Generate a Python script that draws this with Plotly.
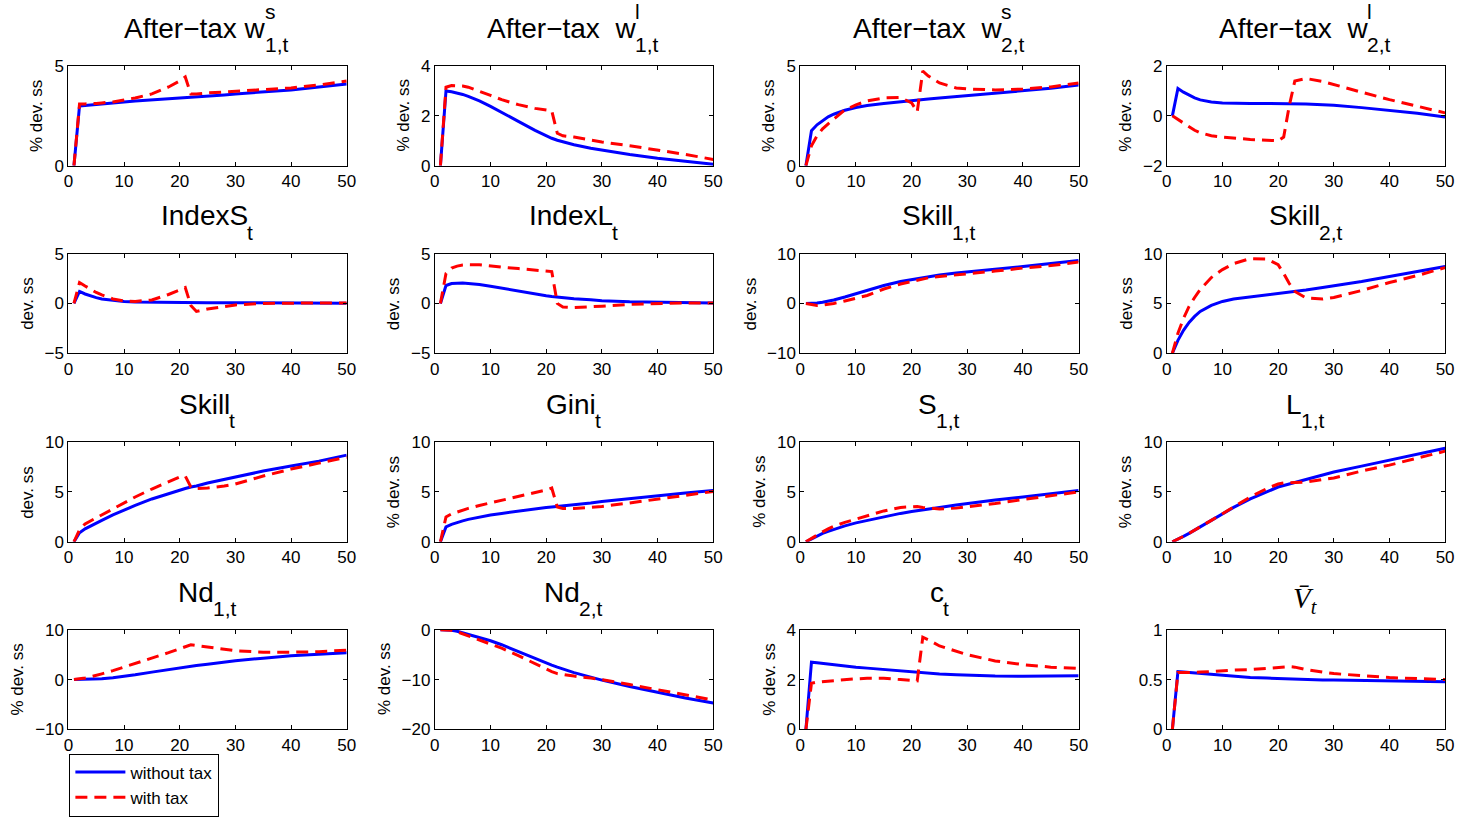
import plotly.graph_objects as go

# ---------------------------------------------------------------- data
t_period = [1, 2, 3, 4, 5, 6, 8, 10, 12, 15, 18, 20, 21, 22, 23, 25, 28, 30, 35, 40, 45, 50]

ws1_notax = [0, 3.0, 3.02, 3.05, 3.08, 3.1, 3.15, 3.2, 3.25, 3.3, 3.37, 3.4, 3.42, 3.44, 3.46, 3.5, 3.55, 3.6, 3.7, 3.8, 3.95, 4.1]
ws1_tax = [0, 3.1, 3.1, 3.1, 3.12, 3.15, 3.2, 3.3, 3.4, 3.6, 3.95, 4.25, 4.45, 3.6, 3.6, 3.65, 3.7, 3.72, 3.8, 3.9, 4.05, 4.25]

wl1_notax = [0, 3.0, 2.97, 2.92, 2.86, 2.78, 2.6, 2.38, 2.15, 1.78, 1.42, 1.2, 1.1, 1.02, 0.95, 0.84, 0.7, 0.62, 0.45, 0.3, 0.17, 0.06]
wl1_tax = [0, 3.15, 3.22, 3.22, 3.2, 3.15, 3.0, 2.82, 2.65, 2.45, 2.3, 2.22, 2.2, 1.3, 1.2, 1.15, 1.02, 0.95, 0.8, 0.63, 0.45, 0.25]

ws2_notax = [0, 1.75, 2.05, 2.25, 2.45, 2.58, 2.78, 2.92, 3.02, 3.12, 3.22, 3.28, 3.3, 3.33, 3.35, 3.4, 3.47, 3.52, 3.63, 3.75, 3.88, 4.05]
ws2_tax = [0, 1.0, 1.5, 1.85, 2.1, 2.35, 2.8, 3.05, 3.25, 3.4, 3.42, 3.15, 2.7, 4.75, 4.5, 4.15, 3.9, 3.85, 3.8, 3.85, 3.95, 4.15]

wl2_notax = [0, 1.1, 0.95, 0.82, 0.72, 0.64, 0.56, 0.52, 0.5, 0.5, 0.5, 0.5, 0.5, 0.5, 0.49, 0.48, 0.45, 0.43, 0.33, 0.23, 0.1, -0.05]
wl2_tax = [0, -0.15, -0.3, -0.45, -0.58, -0.68, -0.8, -0.85, -0.9, -0.95, -0.98, -1.0, -0.85, 0.4, 1.4, 1.5, 1.38, 1.25, 0.95, 0.65, 0.4, 0.12]

indexS_notax = [0, 1.2, 0.95, 0.75, 0.58, 0.45, 0.3, 0.2, 0.15, 0.12, 0.1, 0.1, 0.1, 0.09, 0.09, 0.08, 0.07, 0.06, 0.04, 0.03, 0.02, 0.02]
indexS_tax = [0, 2.1, 1.75, 1.4, 1.1, 0.85, 0.45, 0.25, 0.2, 0.35, 0.9, 1.35, 1.6, -0.2, -0.8, -0.55, -0.3, -0.15, 0.0, 0.05, 0.05, 0.05]

indexL_notax = [0, 1.8, 2.0, 2.05, 2.05, 2.0, 1.9, 1.72, 1.52, 1.22, 0.95, 0.78, 0.7, 0.63, 0.58, 0.48, 0.36, 0.28, 0.16, 0.1, 0.07, 0.05]
indexL_tax = [0, 3.0, 3.55, 3.75, 3.85, 3.9, 3.88, 3.75, 3.65, 3.5, 3.35, 3.25, 3.2, 0.0, -0.35, -0.42, -0.35, -0.27, -0.1, 0.0, 0.05, 0.05]

skill1_notax = [0, 0.0, 0.1, 0.25, 0.45, 0.7, 1.3, 2.0, 2.6, 3.6, 4.4, 4.8, 5.0, 5.2, 5.35, 5.7, 6.1, 6.3, 6.9, 7.4, 8.0, 8.6]
skill1_tax = [0, -0.2, -0.4, -0.35, -0.2, 0.0, 0.5, 1.0, 1.6, 2.9, 3.9, 4.4, 4.7, 4.95, 5.15, 5.4, 5.7, 5.9, 6.5, 7.1, 7.6, 8.3]

skill2_notax = [0, 1.3, 2.3, 3.1, 3.7, 4.2, 4.8, 5.2, 5.45, 5.65, 5.85, 6.0, 6.05, 6.1, 6.15, 6.35, 6.6, 6.75, 7.2, 7.7, 8.2, 8.7]
skill2_tax = [0, 2.0, 3.5, 4.7, 5.6, 6.4, 7.6, 8.4, 9.0, 9.5, 9.45, 8.9, 8.0, 7.0, 6.2, 5.55, 5.45, 5.6, 6.3, 7.1, 7.8, 8.6]

skill_notax = [0, 0.9, 1.3, 1.6, 1.9, 2.15, 2.7, 3.2, 3.65, 4.3, 4.85, 5.2, 5.35, 5.5, 5.6, 5.9, 6.25, 6.5, 7.1, 7.6, 8.1, 8.7]
skill_tax = [0, 1.2, 1.8, 2.1, 2.4, 2.7, 3.3, 3.9, 4.5, 5.3, 6.0, 6.5, 6.6, 5.5, 5.35, 5.4, 5.6, 5.8, 6.6, 7.3, 7.9, 8.5]

gini_notax = [0, 1.5, 1.75, 1.95, 2.1, 2.25, 2.5, 2.7, 2.85, 3.1, 3.3, 3.45, 3.5, 3.55, 3.6, 3.75, 3.9, 4.05, 4.35, 4.6, 4.9, 5.15]
gini_tax = [0, 2.5, 2.8, 3.0, 3.2, 3.35, 3.65, 3.9, 4.15, 4.5, 4.9, 5.2, 5.4, 3.5, 3.35, 3.35, 3.45, 3.55, 3.9, 4.3, 4.7, 5.05]

S1_notax = [0, 0.3, 0.6, 0.85, 1.05, 1.25, 1.6, 1.9, 2.15, 2.55, 2.85, 3.05, 3.12, 3.2, 3.28, 3.45, 3.7, 3.85, 4.2, 4.5, 4.85, 5.15]
S1_tax = [0, 0.35, 0.7, 1.0, 1.3, 1.55, 1.95, 2.3, 2.6, 3.1, 3.45, 3.55, 3.55, 3.45, 3.4, 3.3, 3.38, 3.5, 3.85, 4.25, 4.6, 5.0]

L1_notax = [0, 0.25, 0.55, 0.85, 1.2, 1.5, 2.15, 2.8, 3.45, 4.3, 5.0, 5.5, 5.65, 5.8, 5.95, 6.3, 6.75, 7.0, 7.6, 8.2, 8.8, 9.4]
L1_tax = [0, 0.25, 0.55, 0.85, 1.2, 1.5, 2.15, 2.8, 3.5, 4.5, 5.35, 5.8, 5.9, 5.95, 5.95, 6.0, 6.2, 6.4, 7.1, 7.7, 8.4, 9.1]

nd1_notax = [0, 0.0, 0.0, 0.05, 0.1, 0.15, 0.35, 0.6, 0.95, 1.5, 2.05, 2.4, 2.55, 2.7, 2.85, 3.1, 3.55, 3.8, 4.3, 4.8, 5.1, 5.4]
nd1_tax = [0, 0.1, 0.3, 0.55, 0.8, 1.15, 1.8, 2.5, 3.2, 4.3, 5.4, 6.2, 6.6, 7.0, 6.85, 6.5, 6.1, 5.8, 5.5, 5.5, 5.6, 5.9]

nd2_notax = [0, 0.0, -0.1, -0.3, -0.6, -0.9, -1.5, -2.2, -3.0, -4.4, -5.8, -6.7, -7.1, -7.5, -7.9, -8.6, -9.5, -10.1, -11.4, -12.6, -13.7, -14.7]
nd2_tax = [0, 0.0, -0.1, -0.4, -0.8, -1.2, -2.0, -2.8, -3.7, -5.2, -6.8, -8.0, -8.4, -8.8, -9.0, -9.3, -9.7, -10.0, -11.0, -12.0, -13.0, -14.1]

c_notax = [0, 2.7, 2.68, 2.65, 2.62, 2.6, 2.55, 2.5, 2.46, 2.4, 2.34, 2.3, 2.28, 2.27, 2.25, 2.22, 2.19, 2.17, 2.14, 2.13, 2.13, 2.15]
c_tax = [0, 1.85, 1.9, 1.92, 1.95, 1.97, 2.0, 2.03, 2.05, 2.05, 2.0, 1.95, 1.95, 3.7, 3.6, 3.35, 3.15, 3.0, 2.75, 2.6, 2.5, 2.45]

vbar_notax = [0, 0.58, 0.575, 0.57, 0.565, 0.56, 0.55, 0.54, 0.53, 0.52, 0.515, 0.51, 0.51, 0.505, 0.505, 0.5, 0.497, 0.495, 0.49, 0.485, 0.48, 0.478]
vbar_tax = [0, 0.57, 0.57, 0.57, 0.57, 0.575, 0.58, 0.59, 0.595, 0.6, 0.61, 0.62, 0.625, 0.63, 0.625, 0.6, 0.575, 0.56, 0.54, 0.52, 0.51, 0.5]

x_ticks = [0, 10, 20, 30, 40, 50]
series_names = ["without tax", "with tax"]

PCT = "% dev. ss"
DEV = "dev. ss"
NB = "\u00a0"
MINUS = "\u2212"

# title pieces (base, superscript, subscript), y-label, y-range, y-ticks, series
panels = [
    ("After" + MINUS + "tax w", "s", "1,t", PCT, [0, 5], [0, 5], ws1_notax, ws1_tax),
    ("After" + MINUS + "tax " + NB + "w", "l", "1,t", PCT, [0, 4], [0, 2, 4], wl1_notax, wl1_tax),
    ("After" + MINUS + "tax " + NB + "w", "s", "2,t", PCT, [0, 5], [0, 5], ws2_notax, ws2_tax),
    ("After" + MINUS + "tax " + NB + "w", "l", "2,t", PCT, [-2, 2], [-2, 0, 2], wl2_notax, wl2_tax),
    ("IndexS", "", "t", DEV, [-5, 5], [-5, 0, 5], indexS_notax, indexS_tax),
    ("IndexL", "", "t", DEV, [-5, 5], [-5, 0, 5], indexL_notax, indexL_tax),
    ("Skill", "", "1,t", DEV, [-10, 10], [-10, 0, 10], skill1_notax, skill1_tax),
    ("Skill", "", "2,t", DEV, [0, 10], [0, 5, 10], skill2_notax, skill2_tax),
    ("Skill", "", "t", DEV, [0, 10], [0, 5, 10], skill_notax, skill_tax),
    ("Gini", "", "t", PCT, [0, 10], [0, 5, 10], gini_notax, gini_tax),
    ("S", "", "1,t", PCT, [0, 10], [0, 5, 10], S1_notax, S1_tax),
    ("L", "", "1,t", PCT, [0, 10], [0, 5, 10], L1_notax, L1_tax),
    ("Nd", "", "1,t", PCT, [-10, 10], [-10, 0, 10], nd1_notax, nd1_tax),
    ("Nd", "", "2,t", PCT, [-20, 0], [-20, -10, 0], nd2_notax, nd2_tax),
    ("c", "", "t", PCT, [0, 4], [0, 2, 4], c_notax, c_tax),
    (None, "", "", "", [0, 1], [0, 0.5, 1], vbar_notax, vbar_tax),
]

# ---------------------------------------------------------------- layout geometry (pixels)
W, H = 1466, 817
col_left = [64, 434, 803, 1173]
row_top = [59, 253, 448, 642]
box_w, box_h = 281, 103

FONT = "Liberation Sans, Arial, Helvetica, sans-serif"
TITLE_SIZE = 28
SCRIPT_SIZE = 21
TICK_SIZE = 17
YLAB_SIZE = 17

# Helvetica/Arial advance widths (em) used to centre composite titles
ADV = {"A": .667, "f": .278, "t": .278, "e": .556, "r": .333, MINUS: .584, "a": .556,
       "x": .5, " ": .278, NB: .278, "w": .722, "I": .278, "n": .556, "d": .556,
       "S": .667, "L": .556, "k": .5, "i": .222, "l": .222, "G": .778, "N": .722,
       "c": .5, ",": .278, "1": .556, "2": .556, "s": .5, "0": .556, "5": .556, ".": .278}


def text_w(s, size):
    return sum(ADV.get(ch, .556) for ch in s) * size


def px_x(x):
    return x / W


def px_y(y):
    return 1 - y / H


def label(text, x, y, size, xanchor="center", family=FONT, angle=0):
    return dict(text=text, x=px_x(x), y=px_y(y), xref="paper", yref="paper",
                xanchor=xanchor, yanchor="middle", textangle=angle, showarrow=False,
                borderpad=0, borderwidth=0,
                font=dict(family=family, size=size, color="black"))


fig = go.Figure()
annotations = []
layout = {}

for k, (base, sup, sub, ylab, yr, yt, blue, red) in enumerate(panels):
    r, c = divmod(k, 4)
    n = "" if k == 0 else str(k + 1)
    left, top = col_left[c], row_top[r]
    xa, ya = "xaxis" + n, "yaxis" + n

    common = dict(showline=True, linecolor="black", linewidth=1, mirror="ticks",
                  ticks="inside", ticklen=4, tickcolor="black", tickwidth=1,
                  showgrid=False, zeroline=False,
                  tickfont=dict(family=FONT, size=TICK_SIZE, color="black"))
    layout[xa] = dict(common, domain=[px_x(left), px_x(left + box_w)],
                      range=[0, 50], tickvals=x_ticks, anchor="y" + n)
    layout[ya] = dict(common, domain=[px_y(top + box_h), px_y(top)],
                      range=yr, tickvals=yt, anchor="x" + n)

    fig.add_trace(go.Scatter(x=t_period, y=blue, mode="lines", name=series_names[0],
                             line=dict(color="#0000ff", width=3),
                             xaxis="x" + n, yaxis="y" + n, showlegend=(k == 0)))
    fig.add_trace(go.Scatter(x=t_period, y=red, mode="lines", name=series_names[1],
                             line=dict(color="#ff0000", width=3, dash="12px,7px"),
                             xaxis="x" + n, yaxis="y" + n, showlegend=(k == 0)))

    cx = left + box_w / 2
    if base is None:
        annotations.append(label("<i>V\u0304</i><sub><i>t</i></sub>", cx, top - 31, 29,
                                 family="Liberation Serif, serif"))
    else:
        bw = text_w(base, TITLE_SIZE)
        sw = max(text_w(sub, SCRIPT_SIZE), text_w(sup, SCRIPT_SIZE))
        join = cx - (bw + sw) / 2 + bw
        annotations.append(label(base, join, top - 39, TITLE_SIZE, xanchor="right"))
        if sub:
            annotations.append(label(sub, join - 1, top - 22, SCRIPT_SIZE, xanchor="left"))
        if sup:
            annotations.append(label(sup, join - 1, top - 56, SCRIPT_SIZE, xanchor="left"))

    # y-axis label placed just left of the widest tick label
    if ylab:
        tick_txt = [(MINUS if v < 0 else "") + ("%g" % abs(v)) for v in yt]
        tw = max(text_w(s, TICK_SIZE) for s in tick_txt)
        annotations.append(label(ylab, left - tw - 22, top + box_h / 2, YLAB_SIZE, angle=-90))

fig.update_layout(
    width=W, height=H, autosize=False,
    margin=dict(l=0, r=0, t=0, b=0),
    paper_bgcolor="white", plot_bgcolor="white",
    annotations=annotations,
    showlegend=True,
    legend=dict(x=px_x(65), y=px_y(770), xanchor="left", yanchor="top",
                bordercolor="black", borderwidth=1, bgcolor="white",
                font=dict(family=FONT, size=17, color="black"),
                itemwidth=50, tracegroupgap=0, traceorder="normal"),
    **layout,
)

fig.write_html("out.html")
